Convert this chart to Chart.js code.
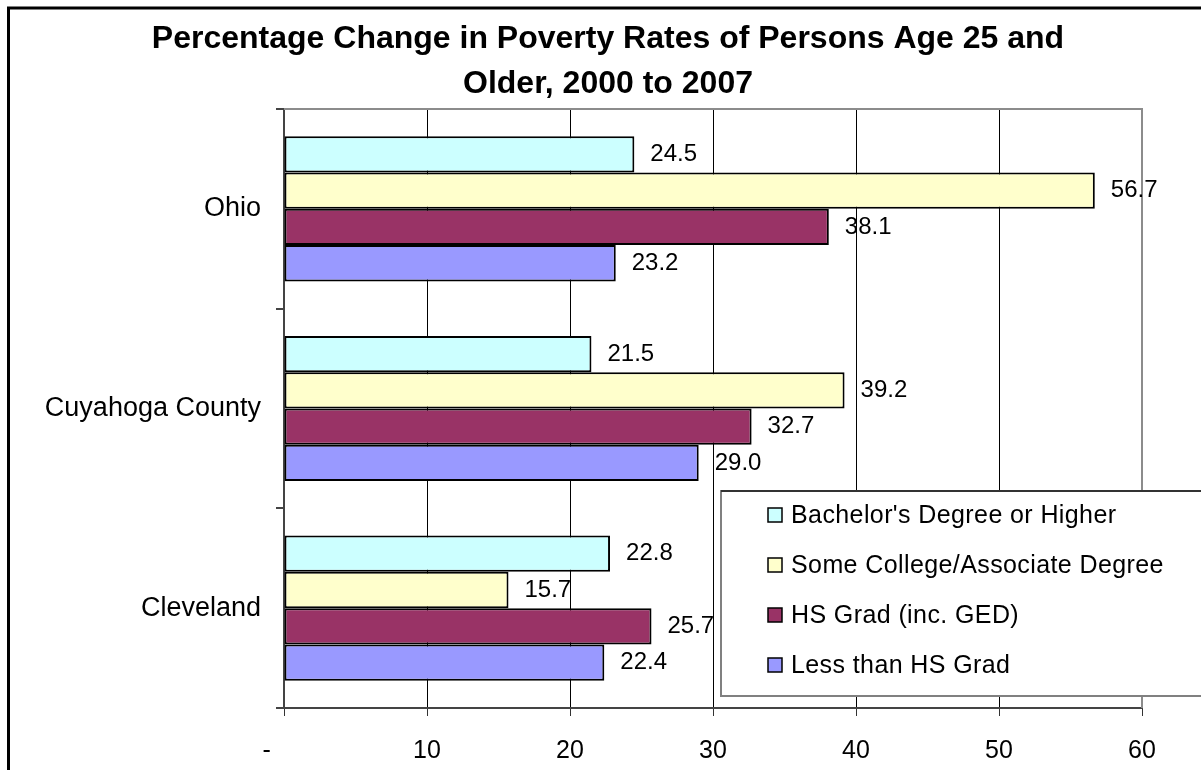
<!DOCTYPE html>
<html>
<head>
<meta charset="utf-8">
<script src="https://cdn.jsdelivr.net/npm/chart.js@4/dist/chart.umd.min.js"></script>
<style>
    body { margin: 0; background: #fff; }
    canvas { display: block; }
</style>
</head>
<body>
<canvas id="povertyChart" width="1201" height="770"></canvas>
<script>
const titleLines = ['Percentage Change in Poverty Rates of Persons Age 25 and', 'Older, 2000 to 2007'];
const categories = ['Ohio', 'Cuyahoga County', 'Cleveland'];
const seriesNames = ["Bachelor's Degree or Higher", 'Some College/Associate Degree', 'HS Grad (inc. GED)', 'Less than HS Grad'];
const bachelors = [24.5, 21.5, 22.8];
const someCollege = [56.7, 39.2, 15.7];
const hsGrad = [38.1, 32.7, 25.7];
const lessThanHs = [23.2, 29.0, 22.4];
const xTickLabels = ['-', '10', '20', '30', '40', '50', '60'];

const seriesColors = ['#CCFFFF', '#FFFFCC', '#993366', '#9999FF'];
const FONT = "'Liberation Sans', Arial, sans-serif";

// outer frame of the excel chart, runs off the right/bottom edge
const frame = {
    id: 'frame',
    afterLayout(chart) {
        // let the long category label draw outside the y scale box (no clipping)
        chart.scales.y.left = 0;
    },
    beforeDraw(chart) {
        const { ctx } = chart;
        ctx.save();
        ctx.fillStyle = '#fff';
        ctx.fillRect(0, 0, chart.width, chart.height);
        ctx.strokeStyle = '#000';
        ctx.lineWidth = 3;
        ctx.strokeRect(8.5, 8, chart.width + 20, chart.height + 20);
        ctx.restore();
    }
}

// gray top and right edge of plot area
const plotBorder = {
    id: 'plotBorder',
    beforeDatasetsDraw(chart) {
        const { ctx, chartArea: { top, bottom, left, right } } = chart;
        ctx.save();
        ctx.strokeStyle = '#8c8c8c';
        ctx.lineWidth = 2;
        ctx.beginPath();
        ctx.moveTo(left, top);
        ctx.lineTo(right, top);
        ctx.lineTo(right, bottom);
        ctx.stroke();
        ctx.restore();
    }
}

const valueLabels = {
    id: 'valueLabels',
    afterDatasetsDraw(chart) {
        const { ctx } = chart;
        ctx.save();
        ctx.font = `24px ${FONT}`;
        ctx.fillStyle = '#000';
        ctx.textAlign = 'left';
        ctx.textBaseline = 'middle';
        chart.data.datasets.forEach((ds, i) => {
            chart.getDatasetMeta(i).data.forEach((bar, j) => {
                ctx.fillText(ds.data[j].toFixed(1), bar.x + 16, bar.y);
            });
        });
        ctx.restore();
    }
}

// legend box sitting inside the plot, cut by the canvas edge
const boxLegend = {
    id: 'boxLegend',
    afterDraw(chart) {
        const { ctx } = chart;
        const x = 721, y = 491, h = 205;
        ctx.save();
        ctx.fillStyle = '#fff';
        ctx.fillRect(x, y, chart.width, h);
        ctx.strokeStyle = '#808080';
        ctx.lineWidth = 2;
        ctx.strokeRect(x, y, chart.width, h);
        ctx.strokeStyle = '#333';
        ctx.beginPath();
        ctx.moveTo(x, y);
        ctx.lineTo(chart.width, y);
        ctx.stroke();

        ctx.font = `25px ${FONT}`;
        ctx.letterSpacing = '0.4px';
        ctx.textAlign = 'left';
        ctx.textBaseline = 'alphabetic';
        chart.data.datasets.forEach((ds, i) => {
            const base = 523 + i * 50;
            ctx.fillStyle = ds.backgroundColor;
            ctx.fillRect(768, base - 15, 14, 14);
            ctx.strokeStyle = '#000';
            ctx.lineWidth = 1.5;
            ctx.strokeRect(768, base - 15, 14, 14);
            ctx.fillStyle = '#000';
            ctx.fillText(ds.label, 791, base);
        });
        ctx.restore();
    }
}

const seriesValues = [bachelors, someCollege, hsGrad, lessThanHs];

const data = {
    labels: categories,
    datasets: seriesValues.map((vals, i) => ({
        label: seriesNames[i],
        data: vals,
        backgroundColor: seriesColors[i],
        borderColor: '#000',
        borderWidth: 2,
        borderSkipped: false,
        barPercentage: 1.0,
        categoryPercentage: 0.727
    }))
};

const config = {
    type: 'bar',
    data,
    options: {
        indexAxis: 'y',
        responsive: false,
        animation: false,
        devicePixelRatio: 1,
        layout: {
            padding: { left: 74, right: 59, top: 0, bottom: 0 }
        },
        plugins: {
            legend: { display: false },
            tooltip: { enabled: false },
            title: {
                display: true,
                text: titleLines,
                color: '#000',
                font: { family: FONT, size: 32, weight: 'bold', lineHeight: 1.406 },
                padding: { top: 17, bottom: 2 }
            }
        },
        scales: {
            x: {
                min: 0,
                max: 60,
                afterFit(scale) { scale.height = 62; },
                ticks: {
                    stepSize: 10,
                    color: '#000',
                    padding: 20,
                    font: { family: FONT, size: 25 },
                    callback: (value, index) => index === 0 ? xTickLabels[0] + '     ' : xTickLabels[index]
                },
                grid: {
                    color: (c) => (c.tick && c.tick.value === 60) ? '#8c8c8c' : '#000',
                    lineWidth: 1,
                    tickLength: 8,
                    tickColor: '#333'
                },
                border: { color: '#444', width: 2 }
            },
            y: {
                afterFit(scale) { scale.width = 210; },
                ticks: {
                    color: '#000',
                    padding: 15,
                    font: { family: FONT, size: 27 }
                },
                grid: {
                    drawOnChartArea: false,
                    offset: true,
                    tickLength: 8,
                    color: '#444',
                    lineWidth: 2
                },
                border: { color: '#444', width: 2 }
            }
        }
    },
    plugins: [frame, plotBorder, valueLabels, boxLegend]
};

const povertyChart = new Chart(document.getElementById('povertyChart'), config);
</script>
</body>
</html>
